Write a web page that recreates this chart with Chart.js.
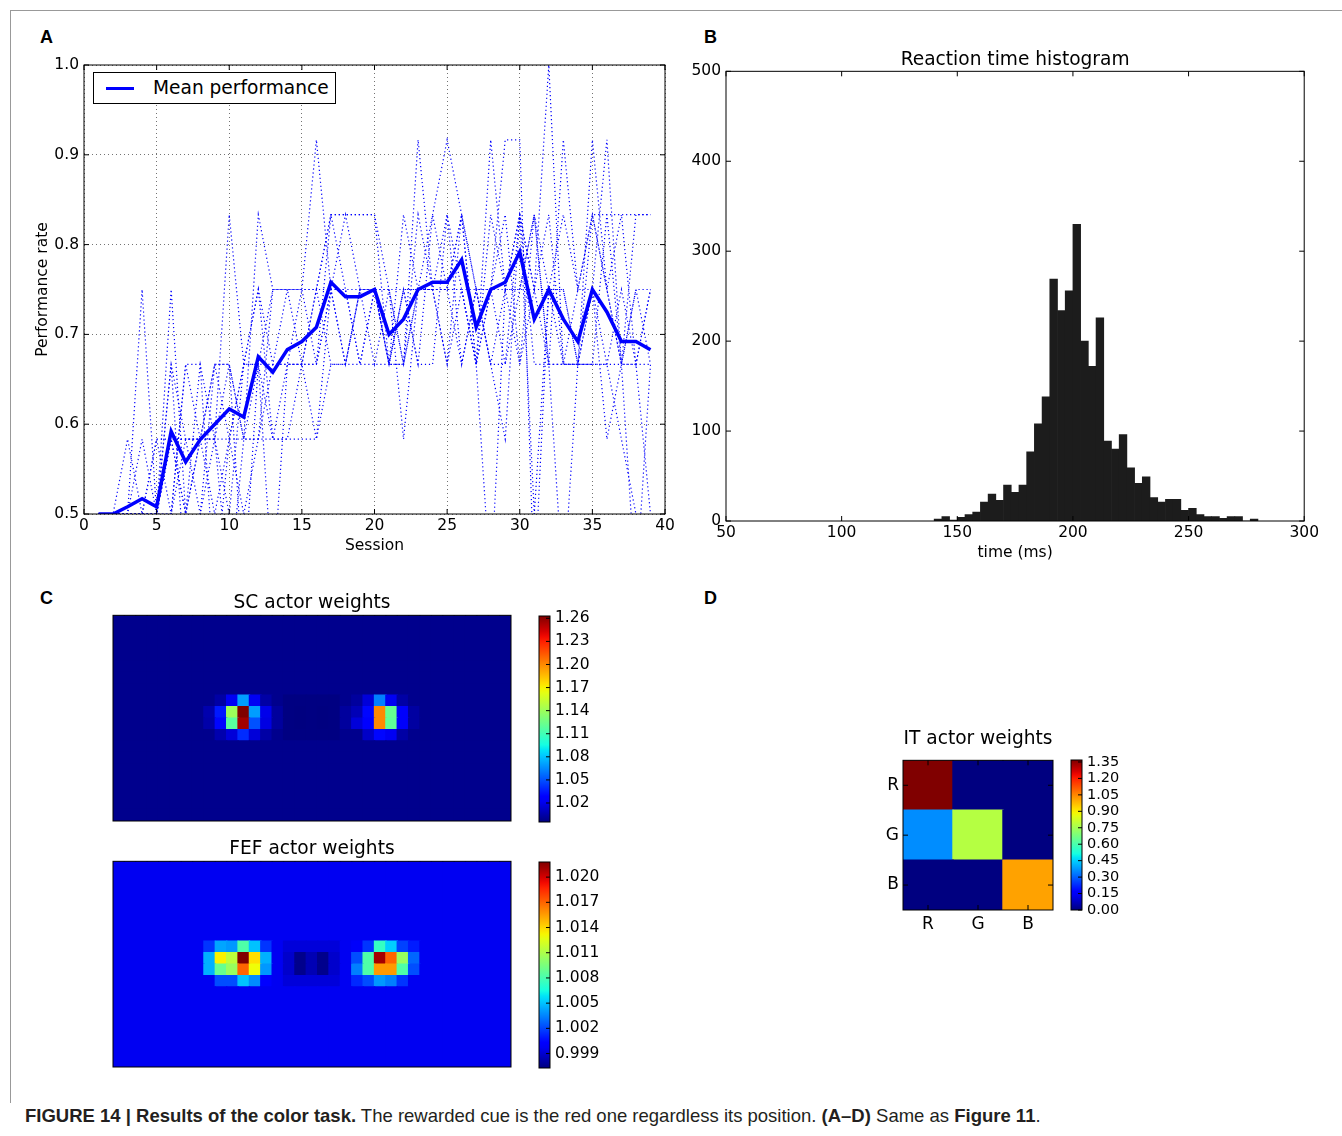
<!DOCTYPE html>
<html>
<head>
<meta charset="utf-8">
<script src="https://cdn.jsdelivr.net/npm/chart.js@4.4.1/dist/chart.umd.min.js"></script>
<style>
  body { margin: 0; background: #fff; }
  #page { position: relative; width: 1342px; height: 1136px; overflow: hidden; font-family: "DejaVu Sans", sans-serif; }
  #page canvas { position: absolute; }
  .edge { position: absolute; left: 10px; top: 10px; width: 1340px; height: 1092px; border-top: 1px solid #999; border-left: 1px solid #999; }
  .letter { position: absolute; font: bold 18px "Liberation Sans", Arial, sans-serif; color: #000; }
  .legend { position: absolute; left: 93px; top: 72px; width: 241px; height: 30px; border: 1px solid #000; background: #fff; z-index: 5; }
  .legend .swatch { position: absolute; left: 12px; top: 13.5px; width: 28px; height: 3.5px; background: #0000ff; }
  .legend .txt { position: absolute; left: 59px; top: 0; line-height: 30px; font-size: 18.6px; color: #000; white-space: nowrap; }
  .caption { position: absolute; left: 25px; top: 1105px; font: 18.5px "Liberation Sans", Arial, sans-serif; color: #231f20; white-space: nowrap; }
</style>
</head>
<body>
<div id="page">
  <div class="edge"></div>
  <div class="letter" style="left:40px;top:27px">A</div>
  <div class="letter" style="left:704px;top:27px">B</div>
  <div class="letter" style="left:40px;top:588px">C</div>
  <div class="letter" style="left:704px;top:588px">D</div>

  <canvas id="chartA"  width="646" height="510" style="left:34px;top:50px"></canvas>
  <div class="legend"><div class="swatch"></div><div class="txt">Mean performance</div></div>

  <canvas id="chartB"  width="646" height="540" style="left:676px;top:30px"></canvas>

  <canvas id="chartSC" width="402" height="238" style="left:111px;top:585px"></canvas>
  <canvas id="cbSC"    width="73"  height="236" style="left:537px;top:601px"></canvas>
  <canvas id="chartFEF" width="402" height="238" style="left:111px;top:831px"></canvas>
  <canvas id="cbFEF"   width="73"  height="236" style="left:537px;top:847px"></canvas>

  <canvas id="chartIT" width="197" height="216" style="left:860px;top:724px"></canvas>
  <canvas id="cbIT"    width="73"  height="180" style="left:1069px;top:745px"></canvas>

  <div class="caption"><b>FIGURE 14 | Results of the color task.</b> The rewarded cue is the red one regardless its position. <b>(A–D)</b> Same as <b>Figure 11</b>.</div>
</div>

<script>
// ── Data: panel A (performance per session) ──────────────────────────────────
const SESSIONS = [1,2,3,4,5,6,7,8,9,10,11,12,13,14,15,16,17,18,19,20,21,22,23,24,25,26,27,28,29,30,31,32,33,34,35,36,37,38,39];
const MEAN_PERF = [0.500,0.500,0.508,0.517,0.508,0.592,0.558,0.583,0.600,0.617,0.608,0.675,0.658,0.683,0.692,0.708,0.758,0.742,0.742,0.750,
                   0.700,0.717,0.750,0.758,0.758,0.783,0.708,0.750,0.758,0.792,0.717,0.750,0.717,0.692,0.750,0.725,0.692,0.692,0.683];
// single runs: correct answers out of TRIALS per session
const TRIALS = 12;
const RUN_1  = [6,6,6,9,6,6,7,7,8,8,7,10,9,9,9,9,10,10,10,10,8,8,11,9,9,10,8,11,9,10,9,12,8,8,10,9,8,10,10];
const RUN_2  = [6,6,7,6,6,9,6,7,7,10,8,8,9,9,9,9,10,10,10,10,9,8,9,10,11,10,9,9,11,11,5,9,10,9,10,10,10,10,10];
const RUN_3  = [6,6,6,6,7,6,8,8,5,7,8,9,7,7,7,7,9,8,9,9,8,9,9,9,10,9,8,9,10,8,10,8,5,8,8,10,8,8,6];
const RUN_4  = [6,6,6,7,6,8,5,6,8,7,6,7,9,9,9,11,9,9,8,9,8,10,9,9,8,10,9,8,9,10,9,9,8,8,9,11,8,9,9];
const RUN_5  = [6,6,6,6,6,7,7,6,7,8,7,8,8,8,9,8,10,9,9,9,9,9,8,10,9,9,8,9,8,10,8,8,11,9,10,9,10,8,9];
const RUN_6  = [6,6,6,6,6,7,6,8,7,6,8,8,7,8,8,9,9,10,9,9,9,8,10,9,9,10,8,10,9,9,9,10,8,8,11,9,8,8,8];
const RUN_7  = [6,6,6,6,7,7,7,7,6,7,7,7,7,7,8,7,8,8,8,8,8,9,8,8,10,8,9,8,8,9,10,9,9,8,8,8,9,8,9];
const RUN_8  = [6,6,6,6,6,8,7,7,7,5,7,7,8,9,8,8,9,8,9,8,9,7,9,9,9,9,8,5,9,9,10,8,8,9,9,7,8,9,8];
const RUN_9  = [6,6,6,6,6,7,6,7,7,7,8,9,8,8,8,8,9,9,8,9,8,8,9,9,9,8,9,8,7,10,6,9,9,8,9,8,8,5,8];
const RUN_10 = [6,6,6,6,6,6,8,7,8,8,5,8,5,8,8,9,8,8,9,9,8,9,9,9,8,9,9,9,9,8,9,8,8,8,8,8,7,6,5];
const RUNS = [RUN_1, RUN_2, RUN_3, RUN_4, RUN_5, RUN_6, RUN_7, RUN_8, RUN_9, RUN_10];

// ── Data: panel B (reaction time histogram) ──────────────────────────────────
const HIST_START_MS = 140;
const HIST_BIN_MS = 10 / 3;
const HIST_COUNTS = [2,5,1,4,7,10,21,30,23,40,32,40,77,108,138,269,234,256,330,200,172,226,
                     89,80,96,59,42,49,26,21,24,24,12,14,7,5,5,3,5,5,0,2];

// ── Data: panel C (SC / FEF weights, 18 x 35 grid) ───────────────────────────
const GRID_ROWS = 18, GRID_COLS = 35;
const PATCH_ROW0 = 7, PATCH_COL0 = 8;     // first row / column of the non-flat part
const SC_BASE = 0.9985;
const SC_PATCH = [
  [0.9985,1.004,1.022,1.070,1.022,1.004,0.9985,0.9958,0.9958,0.9958,0.9958,0.9958,0.9985,1.002,1.016,1.062,1.022,1.004,0.9985],
  [1.006,1.035,1.140,1.263,1.070,1.020,1.002,0.9958,0.9953,0.9958,0.9953,0.9958,1.002,1.008,1.030,1.200,1.122,1.024,1.003],
  [1.005,1.030,1.118,1.255,1.050,1.018,1.002,0.9958,0.9953,0.9958,0.9953,0.9958,1.002,1.016,1.028,1.200,1.120,1.024,1.003],
  [0.9985,1.006,1.016,1.040,1.016,1.004,0.9985,0.9958,0.9958,0.9958,0.9958,0.9958,0.9985,0.9985,1.012,1.030,1.022,1.004,0.9985]
];
const SC_RANGE = [0.9953, 1.263];
const SC_TICKS = [1.02,1.05,1.08,1.11,1.14,1.17,1.20,1.23,1.26];

const FEF_BASE = 0.9997;
const FEF_PATCH = [
  [1.0016,1.0043,1.0040,1.0082,1.0050,1.0016,0.9997,0.9992,0.9992,0.9992,0.9992,0.9992,0.9997,0.9999,1.0016,1.0074,1.0053,1.0019,1.0010],
  [1.0046,1.0133,1.0115,1.0218,1.0138,1.0046,0.9997,0.9989,0.99755,0.9984,0.99755,0.9989,0.9997,1.0022,1.0082,1.0210,1.0170,1.0104,1.0028],
  [1.0046,1.0089,1.0104,1.0170,1.0130,1.0040,0.9997,0.9989,0.99755,0.9984,0.99755,0.9989,0.9997,1.0034,1.0082,1.0156,1.0156,1.0082,1.0022],
  [0.9997,1.0022,1.0022,1.0050,1.0037,1.0003,0.9997,0.9992,0.9992,0.9992,0.9992,0.9992,0.9997,1.0013,1.0022,1.0040,1.0034,1.0016,0.9997]
];
const FEF_RANGE = [0.99728, 1.0218];
const FEF_TICKS = [0.999,1.002,1.005,1.008,1.011,1.014,1.017,1.020];

// ── Data: panel D (IT weights) ───────────────────────────────────────────────
const IT_LABELS = ["R", "G", "B"];
const IT_WEIGHTS = [
  [1.368, 0.00, 0.00],
  [0.36,  0.78, 0.00],
  [0.00,  0.00, 1.01]
];
const IT_RANGE = [0, 1.368];
const IT_TICKS = [0.00,0.15,0.30,0.45,0.60,0.75,0.90,1.05,1.20,1.35];

// ── Helpers ───────────────────────────────────────────────────────────────────
function el(id) { return document.getElementById(id); }
const fixW = w => s => { s.width = w; };
const fixH = h => s => { s.height = h; };

const JET = {
  r: [[0,0],[0.35,0],[0.66,1],[0.89,1],[1,0.5]],
  g: [[0,0],[0.125,0],[0.375,1],[0.64,1],[0.91,0],[1,0]],
  b: [[0,0.5],[0.11,1],[0.34,1],[0.65,0],[1,0]]
};
function interp(pts, t) {
  for (let i = 1; i < pts.length; i++) {
    if (t <= pts[i][0]) {
      const [x0, y0] = pts[i-1], [x1, y1] = pts[i];
      return y0 + (y1 - y0) * (t - x0) / (x1 - x0);
    }
  }
  return pts[pts.length-1][1];
}
function jet(t) {
  t = Math.min(1, Math.max(0, t));
  const c = k => Math.round(255 * interp(JET[k], t));
  return `rgb(${c("r")},${c("g")},${c("b")})`;
}

// frame round the plot area + inward ticks (matplotlib look)
const framePlugin = {
  id: "frame",
  defaults: { display: false, len: 0, top: false, bottom: false, left: false, right: false },
  afterDraw(chart, args, o) {
    if (!o.display) return;
    const { ctx, chartArea: a, scales } = chart;
    ctx.save();
    ctx.strokeStyle = "#000";
    ctx.lineWidth = 1;
    ctx.strokeRect(a.left, a.top, a.right - a.left, a.bottom - a.top);
    if (o.len) {
      ctx.beginPath();
      if (scales.x && (o.top || o.bottom)) {
        scales.x.ticks.forEach((t, i) => {
          const px = scales.x.getPixelForTick(i);
          if (o.bottom) { ctx.moveTo(px, a.bottom); ctx.lineTo(px, a.bottom - o.len); }
          if (o.top)    { ctx.moveTo(px, a.top);    ctx.lineTo(px, a.top + o.len); }
        });
      }
      if (scales.y && (o.left || o.right)) {
        scales.y.ticks.forEach(t => {
          const py = scales.y.getPixelForValue(t.value);
          if (o.left)  { ctx.moveTo(a.left, py);  ctx.lineTo(a.left + o.len, py); }
          if (o.right) { ctx.moveTo(a.right, py); ctx.lineTo(a.right - o.len, py); }
        });
      }
      ctx.stroke();
    }
    ctx.restore();
  }
};
Chart.register(framePlugin);
Chart.defaults.font.family = "'DejaVu Sans', sans-serif";
Chart.defaults.color = "#000";

const BASE_OPTS = { responsive: false, animation: false, events: [] };
const NO_LEGEND = { legend: { display: false }, tooltip: { enabled: false } };
const ALL_SIDES = { display: true, len: 5, top: true, bottom: true, left: true, right: true };
const TICK_FONT = { size: 15.5 };
const TITLE_FONT = { size: 18.6, weight: "normal" };
const NO_GRID = { display: false, drawTicks: false };

// ── A: performance rate ───────────────────────────────────────────────────────
new Chart(el("chartA"), {
  type: "line",
  data: {
    datasets: [
      { label: "Mean performance", data: MEAN_PERF.map((v, i) => ({ x: SESSIONS[i], y: v })),
        borderColor: "#0000ff", borderWidth: 3.5, pointRadius: 0, tension: 0, fill: false },
      ...RUNS.map(run => ({
        data: run.map((k, i) => ({ x: SESSIONS[i], y: k / TRIALS })),
        borderColor: "#0000ff", borderWidth: 1.2, borderDash: [1.2, 2.8], pointRadius: 0, tension: 0, fill: false
      }))
    ]
  },
  options: {
    ...BASE_OPTS,
    layout: { padding: { left: 0, top: 15, right: 15, bottom: 0 } },
    plugins: { ...NO_LEGEND, frame: ALL_SIDES },
    scales: {
      x: { type: "linear", min: 0, max: 40, afterFit: fixH(46),
           ticks: { stepSize: 5, font: TICK_FONT, padding: 3, maxRotation: 0, autoSkip: false },
           grid: { color: "rgba(0,0,0,0.55)", lineWidth: 1, drawTicks: false },
           border: { display: false, dash: [1, 3] },
           title: { display: true, text: "Session", font: TICK_FONT, padding: { top: 0, bottom: 5 } } },
      y: { type: "linear", min: 0.5, max: 1.0, afterFit: fixW(50),
           ticks: { stepSize: 0.1, font: TICK_FONT, padding: 5, callback: v => v.toFixed(1) },
           grid: { color: "rgba(0,0,0,0.55)", lineWidth: 1, drawTicks: false },
           border: { display: false, dash: [1, 3] },
           title: { display: true, text: "Performance rate", font: TICK_FONT, padding: { top: 0, bottom: 0 } } }
    }
  }
});

// ── B: reaction time histogram ────────────────────────────────────────────────
new Chart(el("chartB"), {
  type: "bar",
  data: {
    datasets: [{
      data: HIST_COUNTS.map((n, i) => ({ x: HIST_START_MS + HIST_BIN_MS * (i + 0.5), y: n })),
      backgroundColor: "#1c1c1c", borderWidth: 0, categoryPercentage: 1, barPercentage: 1
    }]
  },
  options: {
    ...BASE_OPTS,
    layout: { padding: { left: 0, top: 0, right: 16, bottom: 0 } },
    plugins: {
      ...NO_LEGEND, frame: ALL_SIDES,
      title: { display: true, text: "Reaction time histogram", font: TITLE_FONT, color: "#000",
               padding: { top: 19, bottom: 0 }, fullSize: false }
    },
    scales: {
      x: { type: "linear", min: 50, max: 300, offset: false, afterFit: fixH(49),
           ticks: { stepSize: 50, font: TICK_FONT, padding: 3, maxRotation: 0, autoSkip: false },
           grid: { ...NO_GRID, offset: false }, border: { display: false },
           title: { display: true, text: "time (ms)", font: TICK_FONT, padding: { top: 0, bottom: 8 } } },
      y: { type: "linear", min: 0, max: 500, afterFit: fixW(50),
           ticks: { stepSize: 100, font: TICK_FONT, padding: 5 },
           grid: NO_GRID, border: { display: false } }
    }
  }
});

// ── C / D: heat maps drawn as stacked unit bars ───────────────────────────────
function heatDatasets(nRows, nCols, valueAt, range) {
  const sets = [];
  for (let r = nRows - 1; r >= 0; r--) {        // bottom row first in the stack
    const colors = [];
    for (let c = 0; c < nCols; c++) colors.push(jet((valueAt(r, c) - range[0]) / (range[1] - range[0])));
    sets.push({ data: Array(nCols).fill(1), backgroundColor: colors, borderWidth: 0,
                inflateAmount: 0.7, categoryPercentage: 1, barPercentage: 1 });
  }
  return sets;
}
function patchValue(base, patch) {
  return (r, c) => {
    const pr = r - PATCH_ROW0, pc = c - PATCH_COL0;
    if (pr >= 0 && pr < patch.length && pc >= 0 && pc < patch[0].length) return patch[pr][pc];
    return base;
  };
}

function gridChart(id, title, base, patch, range) {
  new Chart(el(id), {
    type: "bar",
    data: { labels: Array.from({ length: GRID_COLS }, (_, i) => i),
            datasets: heatDatasets(GRID_ROWS, GRID_COLS, patchValue(base, patch), range) },
    options: {
      ...BASE_OPTS,
      layout: { padding: { left: 2, top: 0, right: 2, bottom: 2 } },
      plugins: {
        ...NO_LEGEND, frame: { display: true },
        title: { display: true, text: title, font: TITLE_FONT, color: "#000", padding: { top: 7, bottom: 1 }, fullSize: false }
      },
      scales: {
        x: { type: "category", stacked: true, display: false },
        y: { type: "linear", stacked: true, min: 0, max: GRID_ROWS, display: false }
      }
    }
  });
}

function colorbar(id, range, ticks, decimals, fontSize) {
  new Chart(el(id), {
    type: "bar",
    data: {
      labels: [""],
      datasets: [{
        data: [[range[0], range[1]]], borderWidth: 0, categoryPercentage: 1, barPercentage: 1,
        backgroundColor: c => {
          const a = c.chart.chartArea;
          if (!a) return "#000080";
          const g = c.chart.ctx.createLinearGradient(0, a.bottom, 0, a.top);
          for (let i = 0; i <= 40; i++) g.addColorStop(i / 40, jet(i / 40));
          return g;
        }
      }]
    },
    options: {
      ...BASE_OPTS,
      layout: { padding: { left: 2, top: 15, right: 0, bottom: 15 } },
      plugins: { ...NO_LEGEND, frame: { display: true, len: 4, right: true } },
      scales: {
        x: { type: "category", display: false },
        y: { type: "linear", position: "right", min: range[0], max: range[1], afterFit: fixW(60),
             afterBuildTicks: s => { s.ticks = ticks.map(v => ({ value: v })); },
             ticks: { font: { size: fontSize }, padding: 5, autoSkip: false,
                      callback: v => Number(v).toFixed(decimals) },
             grid: NO_GRID, border: { display: false } }
      }
    }
  });
}

gridChart("chartSC", "SC actor weights", SC_BASE, SC_PATCH, SC_RANGE);
colorbar("cbSC", SC_RANGE, SC_TICKS, 2, 15.5);
gridChart("chartFEF", "FEF actor weights", FEF_BASE, FEF_PATCH, FEF_RANGE);
colorbar("cbFEF", FEF_RANGE, FEF_TICKS, 3, 15.5);

// IT 3x3
new Chart(el("chartIT"), {
  type: "bar",
  data: { labels: IT_LABELS,
          datasets: heatDatasets(IT_LABELS.length, IT_LABELS.length, (r, c) => IT_WEIGHTS[r][c], IT_RANGE) },
  options: {
    ...BASE_OPTS,
    layout: { padding: { left: 0, top: 0, right: 4, bottom: 0 } },
    plugins: {
      ...NO_LEGEND, frame: ALL_SIDES,
      title: { display: true, text: "IT actor weights", font: TITLE_FONT, color: "#000", padding: { top: 4, bottom: 10 }, fullSize: false }
    },
    scales: {
      x: { type: "category", stacked: true, afterFit: fixH(30),
           ticks: { font: { size: 17 }, padding: 4 }, grid: NO_GRID, border: { display: false } },
      y: { type: "linear", stacked: true, min: 0, max: IT_LABELS.length, afterFit: fixW(43),
           afterBuildTicks: s => { s.ticks = IT_LABELS.map((_, i) => ({ value: IT_LABELS.length - 0.5 - i })); },
           ticks: { font: { size: 17 }, padding: 4, autoSkip: false,
                    callback: v => IT_LABELS[IT_LABELS.length - 1 - Math.floor(v)] },
           grid: NO_GRID, border: { display: false } }
    }
  }
});
colorbar("cbIT", IT_RANGE, IT_TICKS, 2, 14.5);
</script>
</body>
</html>
